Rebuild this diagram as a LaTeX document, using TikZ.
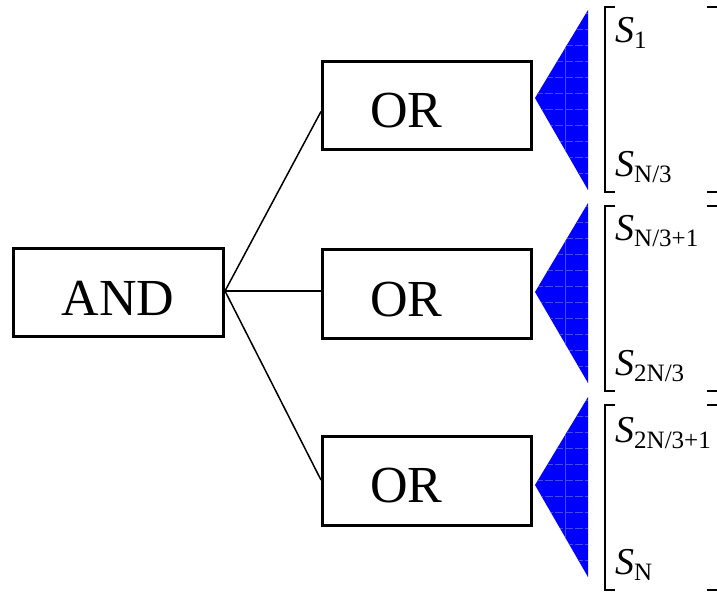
\documentclass[tikz,border=0pt]{standalone}
\usepackage{fontspec}
\setmainfont{Liberation Serif}
\newcommand{\Slab}[1]{{\fontsize{38}{38}\selectfont\itshape S}\raisebox{-6pt}{\fontsize{25}{25}\selectfont #1}}
\tikzset{
  gatebox/.style={draw, line width=3pt, rectangle, inner sep=0pt},
  gatetext/.style={inner sep=0pt, font=\fontsize{52}{52}\selectfont},
  wire/.style={line width=1.5pt},
  fan/.style={fill={rgb,255:red,0;green,0;blue,255}},
  fangrid/.style={draw={rgb,255:red,70;green,70;blue,255}, line width=0.7pt},
  brack/.style={line width=2pt},
  slabel/.style={inner sep=0pt, anchor=base west}
}
\begin{document}
\begin{tikzpicture}[x=1pt,y=-1pt]
\useasboundingbox (0,0) rectangle (717,595);
% gates
\node[gatebox, minimum width=210pt, minimum height=88pt] (and) at (118.5,292.5) {};
\node[gatebox, minimum width=209pt, minimum height=88pt] (or1) at (427,105.5) {};
\node[gatebox, minimum width=209pt, minimum height=89pt] (or2) at (427,294) {};
\node[gatebox, minimum width=209pt, minimum height=89pt] (or3) at (427,481) {};
\node[gatetext, anchor=base] (andt) at (118,315) {AND};
\node[gatetext, anchor=base west] (or1t) at (370,127) {OR};
\node[gatetext, anchor=base west] (or2t) at (370,316) {OR};
\node[gatetext, anchor=base west] (or3t) at (370,502) {OR};
% wires
\draw[wire] ([yshift=1.5pt]and.east) -- ([yshift=-6pt]or1.west);
\draw[wire] ([yshift=1.5pt]and.east) -- ([yshift=3pt]or2.west);
\draw[wire] ([yshift=1.5pt]and.east) -- ([yshift=1pt]or3.west);
% fans
\foreach \ay/\ty/\by in {98/10/190, 292/203/383, 485/397/577}{
  \fill[fan] (535,\ay) -- (588,\ty) -- (588,\by) -- cycle;
  \begin{scope}
    \clip (535,\ay) -- (588,\ty) -- (588,\by) -- cycle;
    \foreach \k in {0,...,11}{
      \draw[fangrid, dash pattern=on 8pt off 2pt] (535,\ty+3+16*\k) -- (588,\ty+3+16*\k);
    }
    \draw[fangrid] (565,\ty) -- (565,\by);
  \end{scope}
}
% brackets
\foreach \t/\b in {7/192, 206/391, 405/590}{
  \draw[brack] (615,\t) -- (605,\t) -- (605,\b) -- (615,\b);
  \draw[brack] (707,\t) -- (718,\t) -- (718,\b) -- (707,\b);
}
% labels
\node[slabel] (s1) at (615,42) {\Slab{1}};
\node[slabel] (s2) at (615,176) {\Slab{N/3}};
\node[slabel] (s3) at (615,240) {\Slab{N/3+1}};
\node[slabel] (s4) at (615,375) {\Slab{2N/3}};
\node[slabel] (s5) at (615,442) {\Slab{2N/3+1}};
\node[slabel] (s6) at (615,574) {\Slab{N}};
\end{tikzpicture}
\end{document}
